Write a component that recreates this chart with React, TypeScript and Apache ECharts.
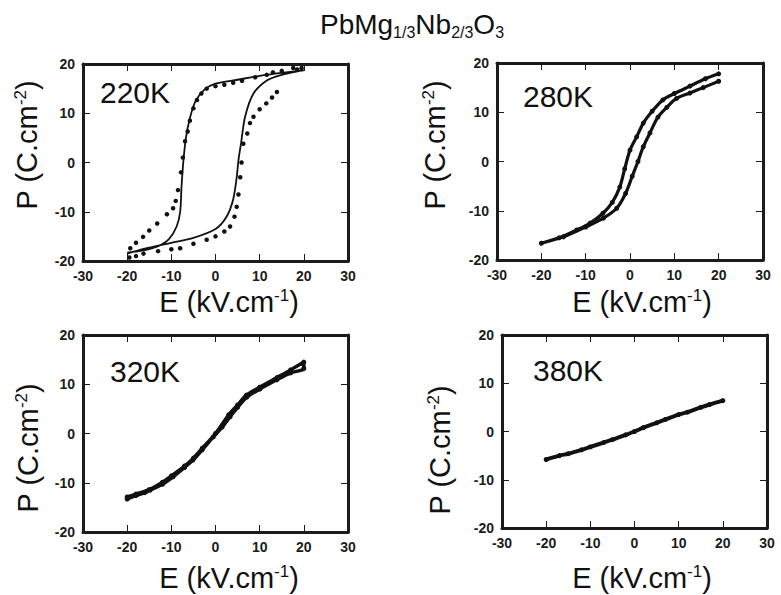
import React, { useEffect, useRef } from "react";
import * as echarts from "echarts";

// ---- data (E in kV/cm, P in C/cm2) ----
const panelTitles = ["220K", "280K", "320K", "380K"];

const line220: [number, number][] = [
  [-20, -18.5], [-16, -17.5], [-10, -16.3], [-5, -15.3], [0, -13.5], [2.5, -11], [4, -7.5],
  [4.8, -3], [5.2, 0.5], [5.8, 4], [6.7, 9.3], [8.6, 14], [11.7, 16.7], [15, 17.8], [19, 18.6], [20, 18.7],
  [15, 18.2], [10, 17.6], [5, 16.8], [0, 16], [-2.5, 14.8], [-4.5, 12.5], [-5.8, 9], [-6.7, 5],
  [-7.3, 0], [-7.7, -5], [-8, -10], [-8.8, -13], [-10.5, -15.5], [-13, -17], [-16, -17.8], [-20, -18.3],
];
const dots220Down: [number, number][] = [
  [19.5, 19.2], [18.5, 18.9], [17.6, 19.2], [15, 18.6], [13, 18.3], [11.6, 17.8], [9, 17.3], [6, 16.6],
  [4, 16.2], [2, 15.8], [0, 15.5], [-2, 15], [-3.2, 14], [-4.2, 12.7], [-5, 11], [-5.8, 8.5], [-6.3, 6.3],
  [-6.9, 4.3], [-7.4, 1], [-7.8, -2], [-8.5, -5.6], [-9, -7.8], [-9.6, -9.3], [-11, -10.5], [-13.2, -12.4],
  [-15, -13.8], [-16.4, -15.1], [-18, -16.3], [-19.3, -17.4],
];
const dots220Up: [number, number][] = [
  [-19.5, -19.3], [-18, -19], [-16.3, -18.5], [-13, -18], [-10, -17.6], [-8, -17.4], [-5, -16.5],
  [-2, -15.7], [0, -15], [2, -14], [3.3, -13], [4.3, -11], [4.8, -9], [5.2, -6.5], [5.6, -3], [5.9, 0],
  [6.3, 3.8], [7.2, 5.9], [7.8, 8], [8.6, 9.3], [10, 10.8], [11.5, 12], [12.8, 13.2], [13.9, 14.3],
];
const loop280: [number, number][] = [
  [20, 17.8], [17, 16.8], [13.5, 15.3], [10, 13.8], [7.4, 12.5], [5, 10.2], [3, 7.8], [1.5, 5], [0, 2.3],
  [-1.2, -1.5], [-2.3, -5.2], [-4, -8.3], [-6.1, -10.5], [-9, -12.5], [-12, -13.9], [-16, -15.5], [-20, -16.6],
  [-15, -15.3], [-10, -13.3], [-6, -11.5], [-3, -9.5], [-1, -6.5], [0.5, -3], [1.8, 0], [3, 3], [4.5, 5.8],
  [6.3, 9], [8.3, 11], [10.5, 12.8], [13.5, 13.9], [16.5, 15], [20, 16.3],
];
const loop320: [number, number][] = [
  [-20, -13.3], [-18, -12.6], [-16, -12], [-14.8, -11.5], [-12, -10.3], [-9.6, -8.8], [-7, -6.9], [-5.1, -5.4],
  [-3, -3.3], [-0.5, -0.7], [1.5, 1.3], [3.3, 3.4], [5, 5.3], [7.1, 7.4], [10, 9], [13.9, 10.9], [17, 12.3], [20, 13.2],
  [20, 14.5], [17, 12.9], [14, 11.4], [10, 9.4], [7, 7.8], [5, 5.8], [3, 3.8], [0, 0], [-3, -3], [-5, -5],
  [-7, -6.6], [-10, -8.6], [-12, -9.9], [-15, -11.4], [-18, -12.3], [-20, -12.9],
];
const loop380: [number, number][] = [
  [-20, -5.8], [-17, -5], [-15, -4.6], [-12, -3.8], [-10, -3.2], [-7, -2.3], [-5, -1.7], [-2, -0.7], [0, 0],
  [2, 0.8], [5, 1.8], [7, 2.5], [10, 3.5], [12, 4], [15, 5], [17, 5.6], [20, 6.4],
];

const E_MIN = -30, E_MAX = 30, E_STEP = 10;
const P_MIN = -20, P_MAX = 20, P_STEP = 10;

const AX = "#1c1c1c";
const LABEL_FONT = "Liberation Sans";

const grids = [
  { left: 83, top: 64, width: 265, height: 197 },
  { left: 497, top: 63, width: 266, height: 197 },
  { left: 83, top: 335, width: 265, height: 197 },
  { left: 502, top: 335, width: 265, height: 193 },
];

function axisOpts(labels: boolean) {
  return {
    z: 50,
    axisLine: { show: true, onZero: false, lineStyle: { color: AX, width: 3 } },
    axisTick: { show: true, inside: true, length: 7 },
    splitLine: { show: false },
    axisLabel: labels ? { show: true, color: AX, fontSize: 14, fontWeight: "bold" } : { show: false },
  };
}

const richMain = { fontSize: 29, fontFamily: LABEL_FONT, fill: "#111" };
const richSup = { fontSize: 17, fontFamily: LABEL_FONT, fill: "#111", padding: [0, 0, 14, 0] };

function yName(x: number, y: number) {
  return {
    type: "text", x, y, rotation: Math.PI / 2,
    style: { text: "{a|P (C.cm}{s|-2}{a|)}", align: "center", verticalAlign: "middle", rich: { a: richMain, s: richSup } },
  };
}
function xName(x: number, y: number) {
  return {
    type: "text", x, y,
    style: { text: "{a|E (kV.cm}{s|-1}{a|)}", align: "center", verticalAlign: "middle", rich: { a: richMain, s: richSup } },
  };
}
function panelLabel(x: number, y: number, t: string) {
  return {
    type: "text", x, y,
    style: { text: t, fontSize: 30, fontFamily: LABEL_FONT, fill: "#111", align: "left", verticalAlign: "middle" },
  };
}

export default function App() {
  const ref = useRef<HTMLDivElement>(null);
  useEffect(() => {
    const chart = echarts.init(ref.current!, null, { renderer: "svg" });
    const xAxes: any[] = [];
    const yAxes: any[] = [];
    for (let g = 0; g < 4; g++) {
      xAxes.push(
        { type: "value", gridIndex: g, position: "bottom", min: E_MIN, max: E_MAX, interval: E_STEP, ...axisOpts(true) },
        { type: "value", gridIndex: g, position: "top", min: E_MIN, max: E_MAX, interval: E_STEP, ...axisOpts(false) }
      );
      yAxes.push(
        { type: "value", gridIndex: g, position: "left", min: P_MIN, max: P_MAX, interval: P_STEP, ...axisOpts(true) },
        { type: "value", gridIndex: g, position: "right", min: P_MIN, max: P_MAX, interval: P_STEP, ...axisOpts(false) }
      );
    }
    const lineSeries = (g: number, data: [number, number][], width: number, sym: number) => ({
      type: "line", xAxisIndex: 2 * g, yAxisIndex: 2 * g, data, smooth: 0.3,
      showSymbol: sym > 0, symbol: "circle", symbolSize: sym,
      itemStyle: { color: "#111", opacity: 1 }, lineStyle: { color: "#111", width },
    });
    const dotSeries = (g: number, data: [number, number][]) => ({
      type: "scatter", xAxisIndex: 2 * g, yAxisIndex: 2 * g, data, symbol: "circle", symbolSize: 4.5,
      itemStyle: { color: "#111", opacity: 1 },
    });
    chart.setOption({
      animation: false,
      grid: grids.map((g) => ({ ...g })),
      xAxis: xAxes,
      yAxis: yAxes,
      series: [
        lineSeries(0, line220, 1.8, 0),
        dotSeries(0, dots220Down),
        dotSeries(0, dots220Up),
        lineSeries(1, loop280, 3.2, 5),
        lineSeries(2, loop320, 3.5, 5),
        lineSeries(3, loop380, 4, 5),
      ],
      graphic: [
        {
          type: "text", x: 412, y: 24,
          style: {
            text: "{a|PbMg}{s|1/3}{a|Nb}{s|2/3}{a|O}{s|3}", align: "center", verticalAlign: "middle",
            rich: {
              a: { fontSize: 28, fontFamily: LABEL_FONT, fill: "#111" },
              s: { fontSize: 16, fontFamily: LABEL_FONT, fill: "#111", padding: [16, 0, 0, 0] },
            },
          },
        },
        yName(27, 145), yName(435, 145), yName(28, 448), yName(440, 450),
        xName(229, 302), xName(642, 302), xName(229, 578), xName(642, 578),
        panelLabel(100, 92, panelTitles[0]), panelLabel(523, 96, panelTitles[1]),
        panelLabel(110, 371, panelTitles[2]), panelLabel(533, 370, panelTitles[3]),
      ],
    });
    return () => chart.dispose();
  }, []);
  return <div ref={ref} style={{ position: "absolute", left: 0, top: 0, width: 781, height: 595 }} />;
}
